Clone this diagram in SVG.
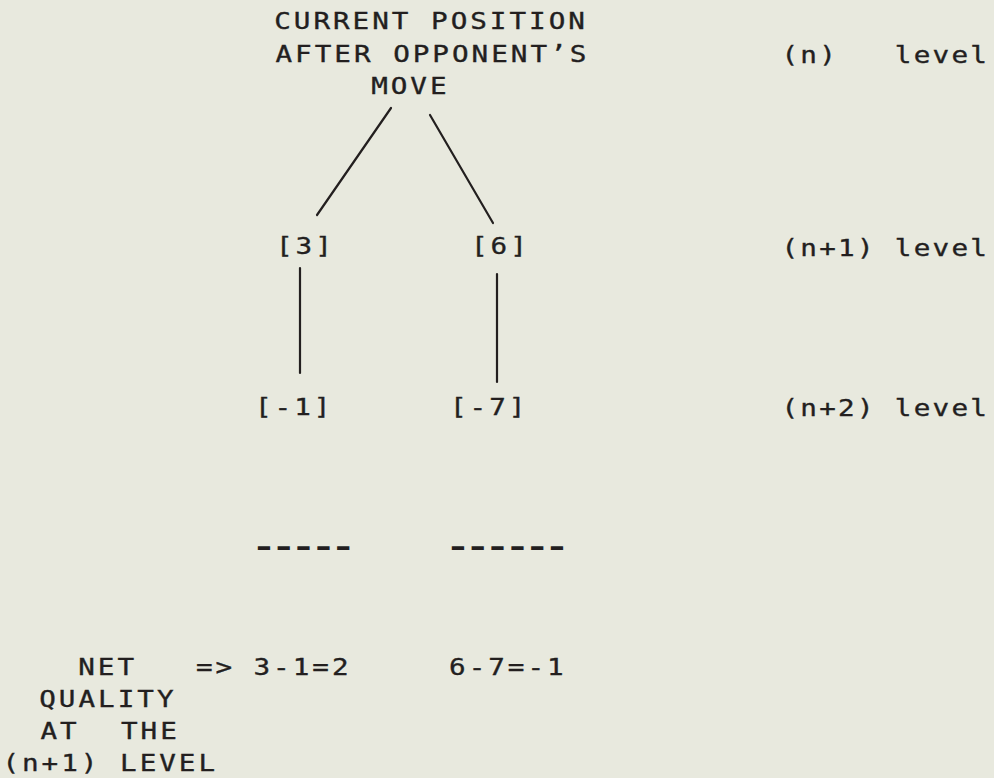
<svg xmlns="http://www.w3.org/2000/svg" width="994" height="778" viewBox="0 0 994 778">
<style>
  text { font-family: "DejaVu Sans Mono", "Liberation Mono", monospace; font-size: 23px; fill: #231f1f; stroke: #231f1f; stroke-width: 0.35px; letter-spacing: 2.5px; white-space: pre; }
  .w { transform: scale(1.2, 1); transform-origin: 0 0; }
  .lvl { letter-spacing: 1.9px; }
  .dash { font-size: 48px; letter-spacing: -9.1px; stroke-width: 0; }
  .edge { stroke: #231f1f; stroke-width: 2.2; stroke-linecap: round; fill: none; }
</style>
<rect width="994" height="778" fill="#e8e9de"/>
<g id="root">
  <text class="w" x="228.5" y="29">CURRENT POSITION</text>
  <text class="w" x="229.6" y="62">AFTER OPPONENT’S</text>
  <text class="w" x="309.3" y="94">MOVE</text>
</g>
<g id="levels">
  <text class="w lvl" x="651.2" y="63" xml:space="preserve">(n)   level</text>
  <text class="w lvl" x="651.2" y="256">(n+1) level</text>
  <text class="w lvl" x="651.2" y="416">(n+2) level</text>
</g>
<g id="node-3"><text class="w" x="230" y="254">[3]</text></g>
<g id="node-6"><text class="w" x="392.5" y="254">[6]</text></g>
<g id="node-m1"><text class="w" x="212.5" y="415">[-1]</text></g>
<g id="node-m7"><text class="w" x="375" y="415">[-7]</text></g>
<g id="connectors">
  <line class="edge" x1="391" y1="108" x2="317" y2="215"/>
  <line class="edge" x1="430" y1="115" x2="493" y2="223"/>
  <line class="edge" x1="300" y1="268" x2="300" y2="373"/>
  <line class="edge" x1="497" y1="274" x2="497" y2="382"/>
</g>
<g id="sums">
  <text class="dash" x="249.5" y="561">-----</text>
  <text class="dash" x="443.5" y="561">------</text>
</g>
<g id="net">
  <text class="w" x="65.2" y="675">NET</text>
  <text class="w" x="163.3" y="675">=&gt;</text>
  <text class="w" x="211.25" y="675">3-1=2</text>
  <text class="w" x="374.2" y="675">6-7=-1</text>
  <text class="w" x="32.7" y="707">QUALITY</text>
  <text class="w" x="33.75" y="739">AT</text>
  <text class="w" x="100.8" y="739">THE</text>
  <text class="w" x="2" y="771">(n+1) LEVEL</text>
</g>
</svg>
